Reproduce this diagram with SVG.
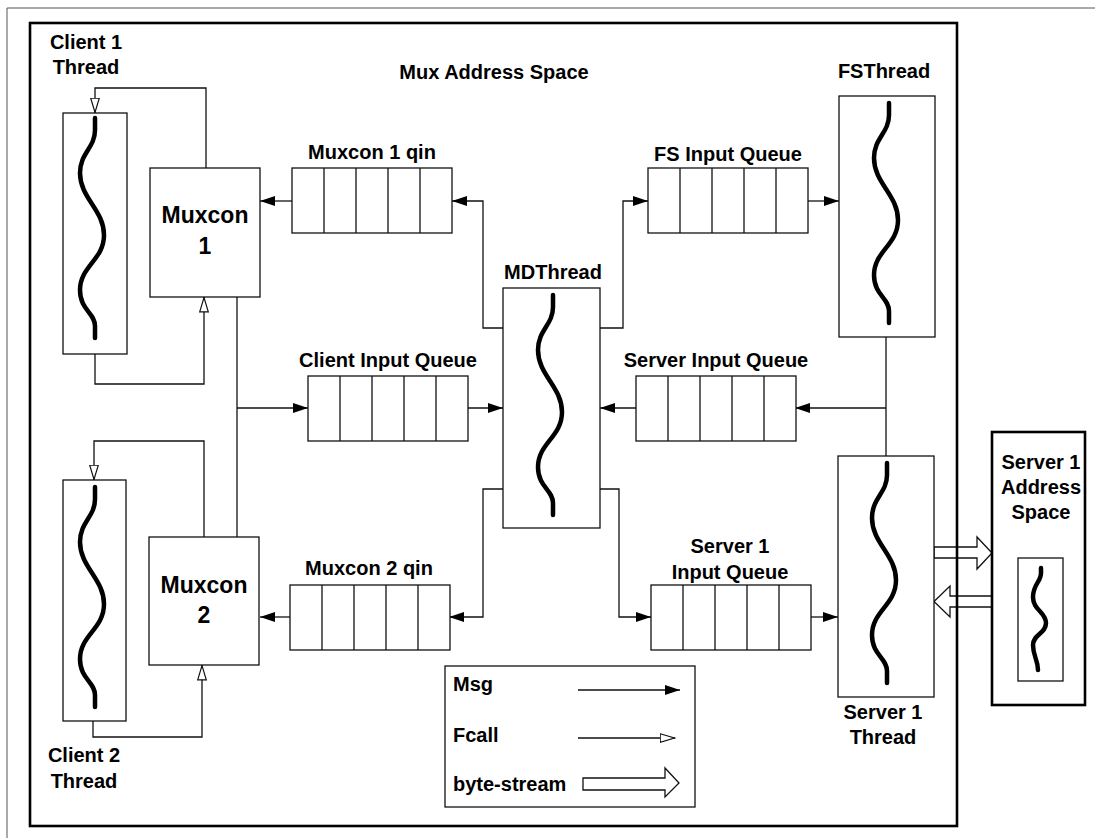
<svg xmlns="http://www.w3.org/2000/svg" width="1095" height="838" viewBox="0 0 1095 838">
<defs>
<style>
.box{fill:#fff;stroke:#111;stroke-width:1.3}
.frame{fill:none;stroke:#000;stroke-width:2.6}
.ln{fill:none;stroke:#111;stroke-width:1.3}
.msg{fill:none;stroke:#111;stroke-width:1.3;marker-end:url(#fill)}
.fc{fill:none;stroke:#111;stroke-width:1.3;marker-end:url(#hollow)}
.wave{fill:none;stroke:#000;stroke-width:4.5;stroke-linecap:round}
.big{fill:#fff;stroke:#111;stroke-width:1.3}
text{font-family:"Liberation Sans",Arial,sans-serif;font-weight:bold;font-size:20px;fill:#000}
.c{text-anchor:middle}
.mx{font-size:23px}
</style>
<marker id="fill" markerUnits="userSpaceOnUse" markerWidth="16" markerHeight="12" refX="15" refY="5" orient="auto"><path d="M0,0 L15,5 L0,10 z" fill="#000"/></marker>
<marker id="hollow" markerUnits="userSpaceOnUse" markerWidth="18" markerHeight="12" refX="15.5" refY="5" orient="auto"><path d="M0.7,0.7 L15,5 L0.7,9.3 z" fill="#fff" stroke="#111" stroke-width="1.2"/></marker>
<path id="w" d="M0,0 L0,12 C0,30 -15,35 -15,55 C-15,80 9,92 9,117 C9,142 -15,148 -15,172 C-15,192 0,195 0,208 L0,220"/>
<g id="q"><rect class="box" x="0" y="0" width="160" height="65"/><path class="ln" d="M32,0 V65 M64,0 V65 M96,0 V65 M128,0 V65"/></g>
</defs>
<rect width="1095" height="838" fill="#fff"/>
<path d="M7,838 V8 H1095" fill="none" stroke="#555" stroke-width="1"/>

<g id="byte-stream-arrows">
<polygon class="big" points="934,547 977,547 977,537 992,553 977,569 977,558 934,558"/>
<polygon class="big" points="992,596 950,596 950,586 934,601.5 950,617 950,607 992,607"/>
</g>

<g id="mux-address-space">
<rect class="frame" x="30" y="23" width="927" height="803"/>
<text class="c" x="494" y="79">Mux Address Space</text>
</g>

<g id="connectors">
<path class="fc" d="M206,168 V88 H95 V113"/>
<path class="fc" d="M95,354 V384 H204 V297"/>
<path class="ln" d="M237,297 V537"/>
<path class="msg" d="M237,408 H308"/>
<path class="fc" d="M204,537 V441 H94 V480"/>
<path class="fc" d="M93,721 V737 H202 V665"/>
<path class="msg" d="M292,201 H260"/>
<path class="msg" d="M290,617 H260"/>
<path class="msg" d="M503,328 H483 V201 H452"/>
<path class="msg" d="M600,328 H623 V201 H648"/>
<path class="msg" d="M808,201 H839"/>
<path class="msg" d="M467,408 H503"/>
<path class="msg" d="M636,408 H600"/>
<path class="ln" d="M886,337 V456"/>
<path class="msg" d="M886,408 H795"/>
<path class="msg" d="M503,489 H483 V617 H449"/>
<path class="msg" d="M600,489 H619 V617 H651"/>
<path class="msg" d="M810,617 H838"/>
</g>

<g id="client1-thread">
<rect class="box" x="63" y="113" width="64" height="241"/>
<use href="#w" class="wave" x="95" y="118"/>
<text class="c" x="86" y="49">Client 1</text>
<text class="c" x="86" y="74">Thread</text>
</g>

<g id="muxcon1">
<rect class="box" x="150" y="168" width="110" height="129"/>
<text class="c mx" x="205" y="223">Muxcon</text>
<text class="c mx" x="205" y="254">1</text>
</g>

<g id="client2-thread">
<rect class="box" x="63" y="480" width="63" height="241"/>
<use href="#w" class="wave" x="95" y="487"/>
<text class="c" x="84" y="762">Client 2</text>
<text class="c" x="84" y="788">Thread</text>
</g>

<g id="muxcon2">
<rect class="box" x="149" y="537" width="110" height="128"/>
<text class="c mx" x="204" y="593">Muxcon</text>
<text class="c mx" x="204" y="623">2</text>
</g>

<g id="muxcon1-qin">
<use href="#q" x="292" y="168"/>
<text class="c" x="372" y="159">Muxcon 1 qin</text>
</g>

<g id="fs-input-queue">
<use href="#q" x="648" y="168"/>
<text class="c" x="728" y="161">FS Input Queue</text>
</g>

<g id="client-input-queue">
<use href="#q" x="308" y="376"/>
<text class="c" x="388" y="367">Client Input Queue</text>
</g>

<g id="server-input-queue">
<use href="#q" x="636" y="376"/>
<text class="c" x="716" y="367">Server Input Queue</text>
</g>

<g id="muxcon2-qin">
<use href="#q" x="290" y="585"/>
<text class="c" x="369" y="575">Muxcon 2 qin</text>
</g>

<g id="server1-input-queue">
<use href="#q" x="651" y="585"/>
<text class="c" x="730" y="553">Server 1</text>
<text class="c" x="730" y="579">Input Queue</text>
</g>

<g id="mdthread">
<rect class="box" x="503" y="288" width="97" height="240"/>
<use href="#w" class="wave" x="553" y="295"/>
<text class="c" x="553" y="279">MDThread</text>
</g>

<g id="fsthread">
<rect class="box" x="839" y="96" width="96" height="241"/>
<use href="#w" class="wave" x="889" y="103"/>
<text class="c" x="884" y="78">FSThread</text>
</g>

<g id="server1-thread">
<rect class="box" x="838" y="456" width="96" height="241"/>
<use href="#w" class="wave" x="887" y="463"/>
<text class="c" x="883" y="719">Server 1</text>
<text class="c" x="883" y="744">Thread</text>
</g>

<g id="server1-address-space">
<rect class="frame" x="992" y="432" width="93" height="273"/>
<rect class="box" x="1018" y="558" width="45" height="123"/>
<path class="wave" d="M1041,568 L1041,573 C1041,582 1033,584 1033,597 C1033,610 1046,612 1046,623 C1046,634 1033,634 1033,645 C1033,656 1038,660 1038,670"/>
<text class="c" x="1041" y="469">Server 1</text>
<text class="c" x="1041" y="494">Address</text>
<text class="c" x="1041" y="519">Space</text>
</g>

<g id="legend">
<rect class="box" x="445" y="666" width="250" height="141"/>
<text x="453" y="691">Msg</text>
<path class="msg" d="M578,690 H680"/>
<text x="453" y="742">Fcall</text>
<path class="fc" d="M578,738 H675"/>
<text x="453" y="791">byte-stream</text>
<polygon class="big" points="583,778 665,778 665,768 679,783 665,797 665,790 583,790"/>
</g>
</svg>
